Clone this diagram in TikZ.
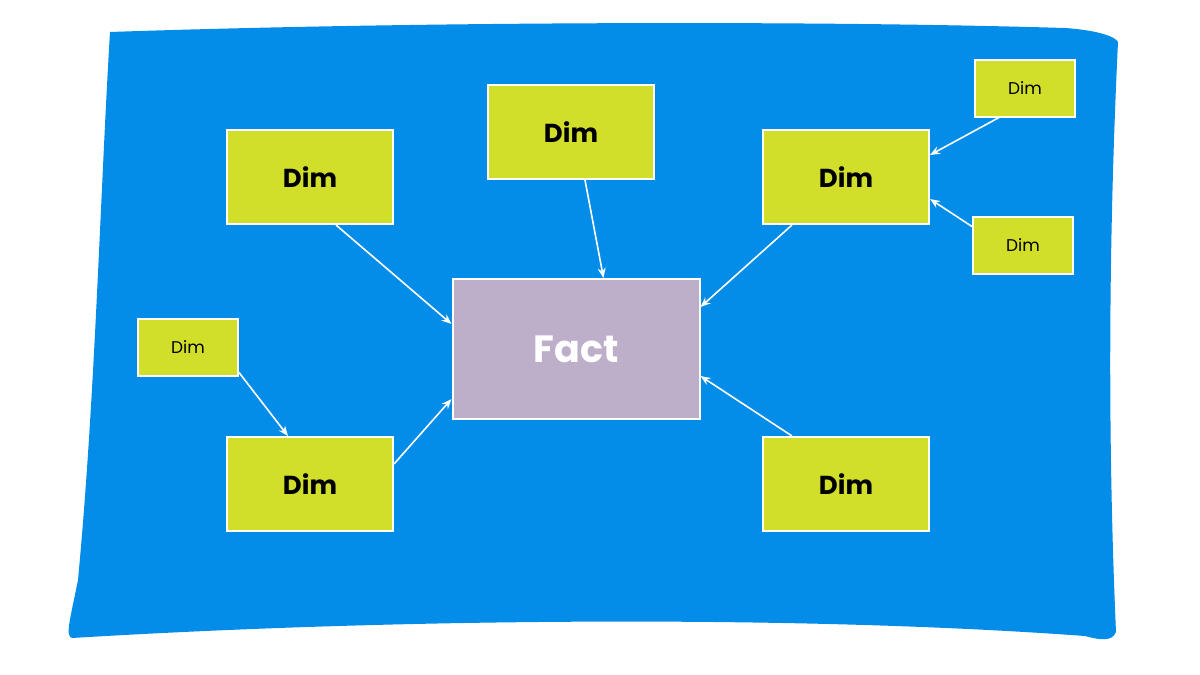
\documentclass[tikz,border=0pt]{standalone}
\usepackage{fontspec}
\setmainfont{Poppins}
\usetikzlibrary{calc,arrows.meta}
\definecolor{bg}{HTML}{038CE8}
\definecolor{dimc}{HTML}{D2DF2A}
\definecolor{factc}{HTML}{BDAEC9}
\tikzset{
  dimbox/.style={draw=white,line width=2pt,fill=dimc,minimum width=166pt,minimum height=94pt,font=\fontsize{26}{30}\selectfont\bfseries},
  smallbox/.style={draw=white,line width=2pt,fill=dimc,minimum width=100pt,minimum height=57pt,font=\fontsize{17}{20}\selectfont},
  factbox/.style={draw=white,line width=2pt,fill=factc,minimum width=247pt,minimum height=140pt,text=white,font=\fontsize{38}{44}\selectfont\bfseries},
  conn/.style={draw=white,line width=1.6pt,-{Stealth[length=10pt,width=8pt]}}
}
\begin{document}
\begin{tikzpicture}[x=1pt,y=-1pt]
\useasboundingbox (0,0) rectangle (1200,675);
\fill[bg] (110,32) .. controls (400,22) and (800,20) .. (1065,28)
  .. controls (1095,30) and (1115,36) .. (1118,42)
  .. controls (1108,250) and (1108,450) .. (1116,632)
  .. controls (1112,642) and (1100,640) .. (1085,636)
  .. controls (800,615) and (400,618) .. (72,638)
  .. controls (65,636) and (70,620) .. (78,580)
  .. controls (95,400) and (100,200) .. (110,32) -- cycle;
\node[factbox] (fact) at (576,349) {Fact};
\node[dimbox] (tl) at (310,177) {Dim};
\node[dimbox] (top) at (571,132) {Dim};
\node[dimbox] (tr) at (846,177) {Dim};
\node[dimbox] (bl) at (310,484) {Dim};
\node[dimbox] (br) at (846,484) {Dim};
\node[smallbox] (s1) at (1025,88) {Dim};
\node[smallbox] (s2) at (1023,245) {Dim};
\node[smallbox] (s3) at (188,347) {Dim};
\draw[conn] ($(tl.south west)+(110,0)$) -- ($(fact.north west)+(0,46)$);
\draw[conn] ($(top.south west)+(98,0)$) -- ($(fact.north west)+(152,0)$);
\draw[conn] ($(tr.south west)+(30,0)$) -- ($(fact.north east)+(0,29)$);
\draw[conn] ($(br.north west)+(30,0)$) -- ($(fact.south east)+(0,-44)$);
\draw[conn] ($(bl.north east)+(0,28)$) -- ($(fact.south west)+(0,-21)$);
\draw[conn] ($(s1.south west)+(25,0)$) -- ($(tr.north east)+(0,26)$);
\draw[conn] ($(s2.north west)+(0,11)$) -- ($(tr.south east)+(0,-26)$);
\draw[conn] ($(s3.south east)+(0,-4)$) -- ($(bl.north west)+(62,0)$);
\end{tikzpicture}
\end{document}
